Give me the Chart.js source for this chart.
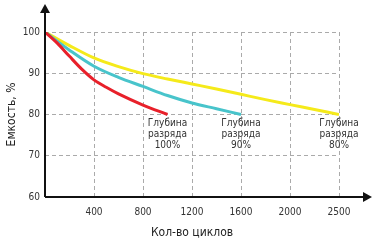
<!DOCTYPE html>
<html>
<head>
<meta charset="utf-8">
<script src="https://cdn.jsdelivr.net/npm/chart.js@4"></script>
<style>
  html, body { margin: 0; padding: 0; background: #fff; }
  #wrap { width: 372px; height: 240px; position: relative; }
</style>
</head>
<body>
<div id="wrap"><canvas id="capChart"></canvas></div>
<script>
// --- данные ---
const redX = [0, 100, 200, 300, 400, 500, 600, 800, 1000];
const redY = [100, 97.3, 94.1, 91, 88.4, 86.6, 85, 82.3, 80];
const tealX = [0, 200, 400, 600, 800, 1000, 1200, 1400, 1600];
const tealY = [100, 95.6, 91.7, 89, 86.8, 84.6, 82.8, 81.4, 80];
const yellowX = [0, 200, 400, 600, 800, 1000, 1200, 1400, 1600, 1800, 2000, 2200, 2400];
const yellowY = [100, 96.7, 93.7, 91.6, 89.9, 88.6, 87.4, 86.2, 84.9, 83.6, 82.4, 81.2, 80];
const xTicks = [400, 800, 1200, 1600, 2000, 2400];
const xTickLabels = ['400', '800', '1200', '1600', '2000', '2500'];
const yTicks = [60, 70, 80, 90, 100];
const depthLabels = ['100%', '90%', '80%'];

const FONT = '"Liberation Sans Narrow", "DejaVu Sans Condensed", "Roboto", sans-serif';
Chart.defaults.font.family = FONT;
Chart.defaults.color = '#333';

const toPts = (xs, ys) => xs.map((x, i) => ({ x: x, y: ys[i] }));

// стрелки осей + подписи глубины разряда
const arrowsPlugin = {
    id: 'arrows',
    afterDraw(chart) {
        const c = chart.ctx; const a = chart.chartArea;
        c.save();
        c.strokeStyle = '#111'; c.fillStyle = '#111'; c.lineWidth = 2;
        c.beginPath();
        c.moveTo(a.left, a.bottom); c.lineTo(366, a.bottom);
        c.moveTo(a.left, a.bottom); c.lineTo(a.left, 10);
        c.stroke();
        c.beginPath(); c.moveTo(372, a.bottom); c.lineTo(363, a.bottom - 5); c.lineTo(363, a.bottom + 5); c.closePath(); c.fill();
        c.beginPath(); c.moveTo(a.left, 4); c.lineTo(a.left - 5, 13); c.lineTo(a.left + 5, 13); c.closePath(); c.fill();

        c.font = '10px ' + FONT; c.textAlign = 'center'; c.textBaseline = 'middle'; c.fillStyle = '#333';
        chart.data.datasets.forEach((ds, i) => {
            const last = ds.data[ds.data.length - 1];
            const px = chart.scales.x.getPixelForValue(last.x);
            const py = chart.scales.y.getPixelForValue(last.y);
            c.fillText('Глубина', px, py + 9);
            c.fillText('разряда', px, py + 20);
            c.fillText(depthLabels[i], px, py + 31);
        });
        c.restore();
    }
};

const ctx = document.getElementById('capChart').getContext('2d');
new Chart(ctx, {
    type: 'line',
    data: {
        datasets: [
            { data: toPts(redX, redY), borderColor: '#e8202a' },
            { data: toPts(tealX, tealY), borderColor: '#48c4cb' },
            { data: toPts(yellowX, yellowY), borderColor: '#f5ea1a' }
        ]
    },
    options: {
        responsive: true, maintainAspectRatio: false, animation: false,
        layout: { padding: { top: 32, right: 33, left: 0, bottom: 0 } },
        elements: { point: { radius: 0 }, line: { borderWidth: 3, cubicInterpolationMode: 'monotone', fill: false } },
        plugins: { legend: { display: false }, tooltip: { enabled: false } },
        scales: {
            x: {
                type: 'linear', min: 0, max: 2400,
                afterBuildTicks: s => { s.ticks = [0].concat(xTicks).map(v => ({ value: v })); },
                afterFit: s => { s.height = 43; },
                grid: { color: '#aaa', lineWidth: 1, drawTicks: false },
                border: { display: false, dash: [4, 3] },
                ticks: { padding: 9, font: { size: 10 }, color: '#333',
                    callback: (v) => { const i = xTicks.indexOf(v); return i < 0 ? '' : xTickLabels[i]; } },
                title: { display: true, text: 'Кол-во циклов', font: { size: 12 }, color: '#222', padding: { top: 4, bottom: 0 } }
            },
            y: {
                type: 'linear', min: 60, max: 100,
                afterBuildTicks: s => { s.ticks = yTicks.map(v => ({ value: v })); },
                afterFit: s => { s.width = 45; },
                grid: { color: '#aaa', lineWidth: 1, drawTicks: false },
                border: { display: false, dash: [4, 3] },
                ticks: { padding: 5, font: { size: 10 }, color: '#333' },
                title: { display: true, text: 'Емкость, %', font: { size: 12 }, color: '#222', padding: 5 }
            }
        }
    },
    plugins: [arrowsPlugin]
});
</script>
</body>
</html>
